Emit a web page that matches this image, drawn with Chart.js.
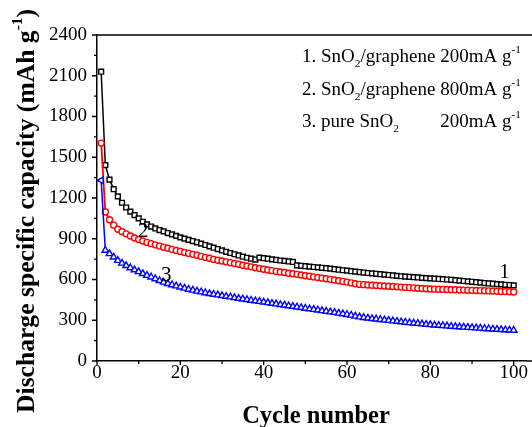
<!DOCTYPE html>
<html><head><meta charset="utf-8">
<script src="https://cdn.jsdelivr.net/npm/chart.js@4/dist/chart.umd.min.js"></script>
<style>html,body{margin:0;padding:0;background:#fff;}#wrap{width:532px;height:427px;}</style>
</head><body><div id="wrap"><canvas id="c" width="532" height="427"></canvas></div>
<script>
// ---- data ----
const cycles = [
 1,2,3,4,5,6,7,8,9,10, 11,12,13,14,15,16,17,18,19,20,
 21,22,23,24,25,26,27,28,29,30, 31,32,33,34,35,36,37,38,39,40,
 41,42,43,44,45,46,47,48,49,50, 51,52,53,54,55,56,57,58,59,60,
 61,62,63,64,65,66,67,68,69,70, 71,72,73,74,75,76,77,78,79,80,
 81,82,83,84,85,86,87,88,89,90, 91,92,93,94,95,96,97,98,99,100];
const graphene200 = [
 2130,1442,1335,1265,1212,1165,1130,1100,1074,1050,
 1025,1006,990,976,964,954,942,932,921,910,
 901,892,883,874,864,854,844,834,824,814,
 804,795,786,777,768,760,753,747,761,757,
 753,748,744,740,737,733,729,704,701,698,
 695,692,689,686,683,680,676,672,668,665,
 661,658,655,651,648,645,642,639,636,633,
 630,627,624,621,619,617,615,612,610,608,
 606,604,602,600,598,595,592,589,586,583,
 580,577,574,571,569,566,564,561,559,557];
const graphene800 = [
 1604,1097,1040,1000,970,952,936,920,906,894,
 883,873,864,855,846,838,830,822,814,807,
 799,792,785,778,770,763,756,748,742,736,
 730,724,718,712,705,699,693,687,681,675,
 670,665,660,655,651,646,642,638,633,628,
 624,619,615,610,605,601,596,591,586,581,
 575,569,564,562,560,558,556,554,552,550,
 548,546,544,542,540,538,536,534,532,530,
 529,528,527,526,525,524,523,522,521,520,
 519,518,517,516,515,514,512,511,510,508];
const pureSnO2 = [
 1330,815,790,765,740,720,702,686,671,657,
 643,630,618,605,592,580,570,561,552,544,
 536,528,521,514,508,502,496,491,486,481,
 476,471,466,461,456,452,447,443,438,434,
 429,424,420,415,411,406,402,397,393,388,
 384,379,375,370,366,361,357,352,347,342,
 337,330,324,320,316,312,309,305,302,298,
 295,292,288,285,282,279,276,273,270,267,
 264,262,260,258,255,253,251,249,247,245,
 243,241,239,237,235,233,231,229,227,226];
const xTicks = [0,20,40,60,80,100];
const xMinorTicks = [10,30,50,70,90];
const yTicks = [0,300,600,900,1200,1500,1800,2100,2400];
const yMinorTicks = [150,450,750,1050,1350,1650,1950,2250];
const xTitle = 'Cycle number';
const yTitleParts = [{t:'Discharge specific capacity (mAh g'},{t:'-1',sup:true},{t:')'}];
const legendLines = [
 [{t:'1. SnO'},{t:'2',sub:true},{t:'/graphene 200mA g'},{t:'-1',sup:true}],
 [{t:'2. SnO'},{t:'2',sub:true},{t:'/graphene 800mA g'},{t:'-1',sup:true}],
 [{t:'3. pure SnO'},{t:'2',sub:true}]
];
const legendLine3Rate = [{t:'200mA g'},{t:'-1',sup:true}];
const curveLabels = ['1','2','3'];
const curveLabelCycle = [97.8, 11.1, 16.6];
const curveLabelValue = [655, 950, 633];

const SERIF = '"Liberation Serif", "Times New Roman", serif';
function toXY(vals){ return vals.map((v,i)=>({x:cycles[i], y:v})); }

function drawRich(ctx, x, y, parts, size, bold){
  let cx = x;
  for (const p of parts){
    let fs = size, dy = 0;
    if (p.sub){ fs = size*0.6; dy = size*0.25; }
    if (p.sup){ fs = size*0.6; dy = -size*0.45; }
    ctx.font = (bold?'bold ':'') + fs + 'px ' + SERIF;
    ctx.fillText(p.t, cx, y+dy);
    cx += ctx.measureText(p.t).width;
  }
  return cx;
}
function measureRich(ctx, parts, size, bold){
  let w = 0;
  for (const p of parts){
    const fs = (p.sub||p.sup) ? size*0.6 : size;
    ctx.font = (bold?'bold ':'') + fs + 'px ' + SERIF;
    w += ctx.measureText(p.t).width;
  }
  return w;
}

const decor = {
  id:'decor',
  afterDraw(chart){
    const ctx = chart.ctx, ca = chart.chartArea;
    const xs = chart.scales.x, ys = chart.scales.y;
    ctx.save();
    ctx.strokeStyle = '#000'; ctx.fillStyle = '#000';
    ctx.lineWidth = 1.5;
    ctx.beginPath(); ctx.moveTo(ca.left, ca.top); ctx.lineTo(chart.width, ca.top); ctx.stroke();
    ctx.beginPath(); ctx.moveTo(ca.right, ca.bottom); ctx.lineTo(chart.width, ca.bottom); ctx.stroke();
    ctx.lineWidth = 1.3;
    ctx.beginPath();
    for (const v of yTicks){ const p = ys.getPixelForValue(v); ctx.moveTo(ca.left-5, p); ctx.lineTo(ca.left, p); }
    for (const v of yMinorTicks){ const p = ys.getPixelForValue(v); ctx.moveTo(ca.left-3, p); ctx.lineTo(ca.left, p); }
    for (const v of xTicks){ const p = xs.getPixelForValue(v); ctx.moveTo(p, ca.bottom); ctx.lineTo(p, ca.bottom+4); }
    for (const v of xMinorTicks){ const p = xs.getPixelForValue(v); ctx.moveTo(p, ca.bottom); ctx.lineTo(p, ca.bottom+3); }
    ctx.stroke();
    // x title
    ctx.textBaseline = 'alphabetic';
    ctx.textAlign = 'center';
    ctx.font = 'bold 24.5px ' + SERIF;
    ctx.fillText(xTitle, 316, 423);
    // y title (fit to reference length)
    ctx.textAlign = 'left';
    const w0 = measureRich(ctx, yTitleParts, 26, true);
    const ysz = 26 * 404 / w0;
    const w = measureRich(ctx, yTitleParts, ysz, true);
    ctx.save();
    ctx.translate(34, 211);
    ctx.rotate(-Math.PI/2);
    drawRich(ctx, -w/2, 0, yTitleParts, ysz, true);
    ctx.restore();
    // legend
    const lsz = 19, lx = 302, lys = [62, 95, 127];
    let rateX = 0;
    legendLines.forEach((parts,i)=>{
      drawRich(ctx, lx, lys[i], parts, lsz, false);
      if (i===0){ rateX = lx + measureRich(ctx, [parts[0]], lsz, false) + measureRich(ctx,[parts[1]],lsz,false) + measureRich(ctx,[{t:'/graphene '}], lsz, false); }
    });
    drawRich(ctx, rateX, lys[2], legendLine3Rate, lsz, false);
    // curve labels
    ctx.textAlign = 'center'; ctx.textBaseline = 'middle';
    ctx.font = '21px ' + SERIF;
    curveLabels.forEach((t,i)=>{
      ctx.fillText(t, xs.getPixelForValue(curveLabelCycle[i]), ys.getPixelForValue(curveLabelValue[i]));
    });
    ctx.restore();
  }
};

const leftTri = pureSnO2.map((v,i)=> i===0 ? -90 : 0);

new Chart(document.getElementById('c'), {
  type:'line',
  data:{ datasets:[
    { label:'3', data:toXY(pureSnO2), borderColor:'#0000ff', borderWidth:1.5,
      pointStyle:'triangle', pointRotation:leftTri, pointRadius:3.8, pointBorderWidth:1.4,
      pointBorderColor:'#0000ff', pointBackgroundColor:'#ffffff', tension:0 },
    { label:'2', data:toXY(graphene800), borderColor:'#ff0000', borderWidth:1.8,
      pointStyle:'circle', pointRadius:3, pointBorderWidth:1.4,
      pointBorderColor:'#ff0000', pointBackgroundColor:'#ffffff', tension:0 },
    { label:'1', data:toXY(graphene200), borderColor:'#000000', borderWidth:1.5,
      pointStyle:'rect', pointRadius:3.4, pointBorderWidth:1.4,
      pointBorderColor:'#000000', pointBackgroundColor:'#ffffff', tension:0 }
  ]},
  options:{
    responsive:false, animation:false, devicePixelRatio:1,
    layout:{ padding:{ top:35, left:0, right:0, bottom:0 } },
    plugins:{ legend:{display:false}, tooltip:{enabled:false} },
    scales:{
      x:{ type:'linear', min:0, max:103.1,
        afterBuildTicks(s){ s.ticks = xTicks.map(v=>({value:v})); },
        afterFit(s){ s.height = 66; },
        grid:{ display:false, drawTicks:false },
        border:{ display:true, color:'#000', width:1.5 },
        ticks:{ color:'#000', font:{ family:SERIF, size:19 }, padding:1, maxRotation:0, autoSkip:false,
          callback:(v)=>String(v) }
      },
      y:{ type:'linear', min:0, max:2400,
        afterBuildTicks(s){ s.ticks = yTicks.map(v=>({value:v})); },
        afterFit(s){ s.width = 97; },
        grid:{ display:false, drawTicks:false },
        border:{ display:true, color:'#000', width:1.5 },
        ticks:{ color:'#000', font:{ family:SERIF, size:19 }, padding:10, callback:(v)=>String(v) }
      }
    }
  },
  plugins:[decor]
});
</script>
</body></html>
